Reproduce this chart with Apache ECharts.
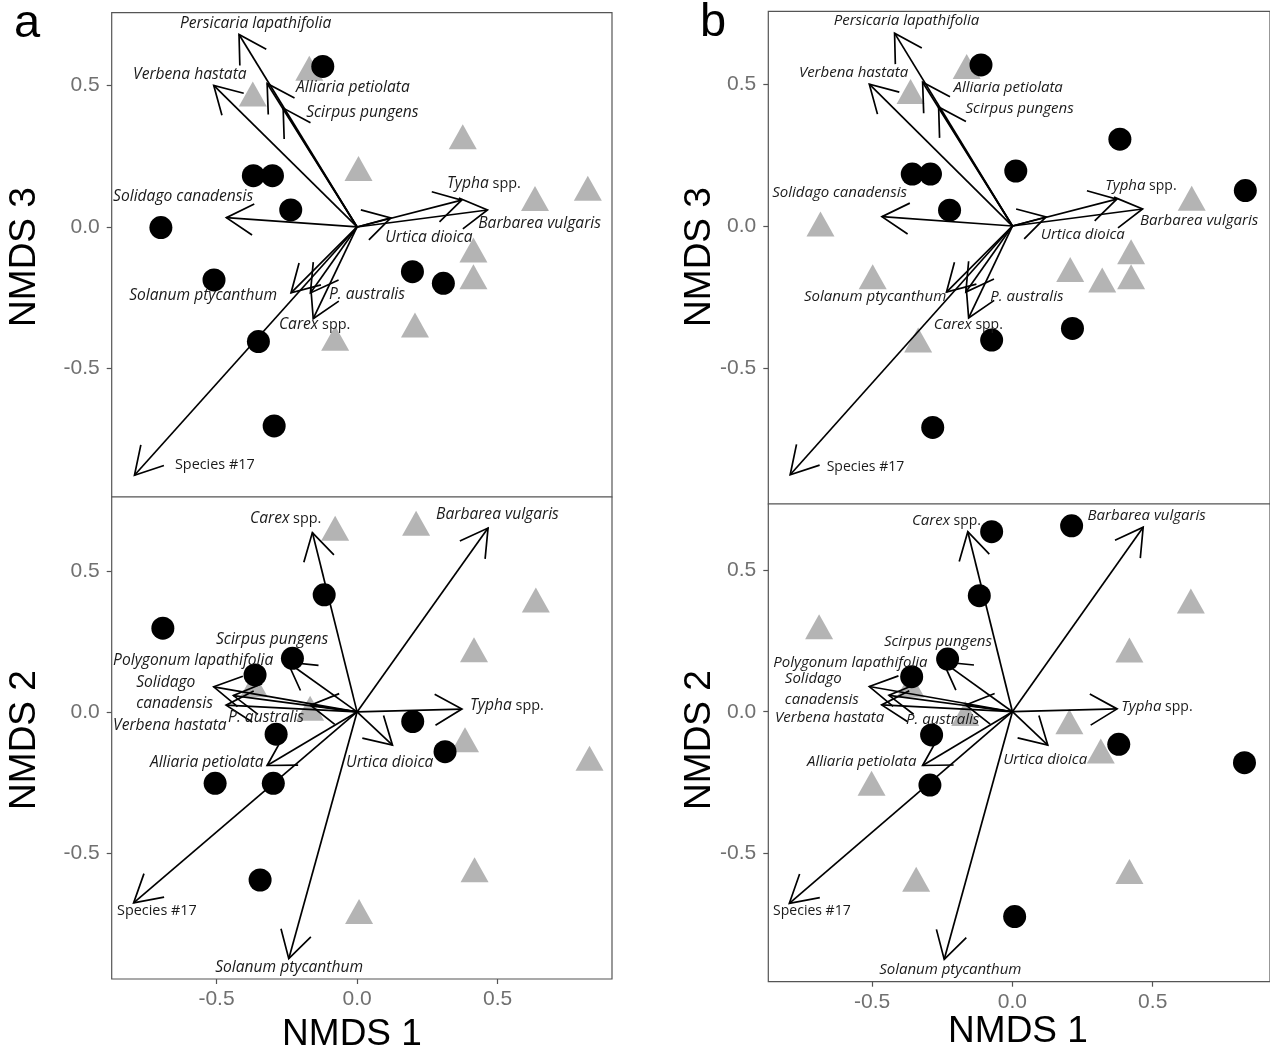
<!DOCTYPE html>
<html><head><meta charset="utf-8">
<script src="https://cdn.jsdelivr.net/npm/echarts@6/dist/echarts.min.js"></script>
<style>html,body{margin:0;padding:0;background:#fff}#c{width:1270px;height:1055px}</style>
</head><body><div id="c"></div>
<script>
// ---------- DATA ----------
const xTicks = [-0.5, 0, 0.5];
const yTicks = [-0.5, 0, 0.5];

// Panel a, NMDS1 vs NMDS3
const a13Circles = [[-0.122,0.567],[-0.369,0.181],[-0.301,0.181],[-0.236,0.060],[-0.698,-0.002],[-0.509,-0.187],[0.197,-0.158],[0.307,-0.199],[-0.351,-0.405],[-0.295,-0.703]];
const a13Triangles = [[-0.170,0.561],[-0.371,0.470],[0.376,0.319],[0.005,0.207],[0.633,0.101],[0.821,0.137],[0.414,-0.081],[0.414,-0.176],[0.206,-0.346],[-0.078,-0.393]];
// Panel a, NMDS1 vs NMDS2
const a12Circles = [[-0.691,0.297],[-0.117,0.415],[-0.230,0.190],[-0.363,0.131],[-0.288,-0.079],[0.198,-0.034],[0.313,-0.141],[-0.505,-0.253],[-0.298,-0.253],[-0.345,-0.596]];
const a12Triangles = [[-0.078,0.651],[0.210,0.669],[0.636,0.397],[0.416,0.220],[-0.367,0.096],[-0.167,0.013],[0.384,-0.099],[0.827,-0.164],[0.418,-0.560],[0.007,-0.708]];
// Panel b, NMDS1 vs NMDS3
const b13Circles = [[-0.112,0.568],[-0.357,0.183],[-0.292,0.183],[0.012,0.194],[0.383,0.306],[-0.224,0.056],[0.830,0.125],[0.214,-0.361],[-0.074,-0.402],[-0.284,-0.710]];
const b13Triangles = [[-0.163,0.562],[-0.363,0.474],[0.639,0.098],[-0.684,0.007],[0.423,-0.091],[0.206,-0.153],[0.320,-0.190],[0.423,-0.179],[-0.498,-0.179],[-0.336,-0.402]];
// Panel b, NMDS1 vs NMDS2
const b12Circles = [[-0.074,0.636],[0.211,0.657],[-0.118,0.410],[-0.231,0.186],[-0.359,0.124],[-0.288,-0.082],[0.379,-0.115],[0.827,-0.180],[-0.294,-0.259],[0.008,-0.724]];
const b12Triangles = [[-0.689,0.300],[0.636,0.391],[0.417,0.218],[-0.363,0.094],[-0.168,-0.006],[0.203,-0.035],[0.315,-0.139],[-0.502,-0.253],[-0.343,-0.592],[0.417,-0.565]];

// Species vectors (NMDS1, NMDS3)
const vectors13 = [
  ['Persicaria lapathifolia', -0.420, 0.680],
  ['Verbena hastata', -0.510, 0.500],
  ['Alliaria petiolata', -0.320, 0.507],
  ['Scirpus pungens', -0.263, 0.420],
  ['Solidago canadensis', -0.465, 0.033],
  ['Typha spp.', 0.372, 0.095],
  ['Barbarea vulgaris', 0.464, 0.060],
  ['Urtica dioica', 0.120, 0.032],
  ['Solanum ptycanthum', -0.235, -0.233],
  ['P. australis', -0.166, -0.233],
  ['Carex spp.', -0.156, -0.324],
  ['Species #17', -0.792, -0.877]
];
// Species vectors (NMDS1, NMDS2)
const vectors12 = [
  ['Carex spp.', -0.159, 0.636],
  ['Barbarea vulgaris', 0.466, 0.652],
  ['Typha spp.', 0.373, 0.010],
  ['Urtica dioica', 0.126, -0.118],
  ['Scirpus pungens', -0.247, 0.176],
  ['Polygonum lapathifolia', -0.510, 0.089],
  ['Solidago canadensis', -0.466, 0.024],
  ['Verbena hastata', -0.440, 0.058],
  ['P. australis', -0.166, 0.024],
  ['Alliaria petiolata', -0.320, -0.190],
  ['Species #17', -0.795, -0.677],
  ['Solanum ptycanthum', -0.243, -0.875]
];

// Label anchors (left edge, middle) in data units
const labelsA13 = [
  ['Persicaria lapathifolia', -0.630, 0.717], ['Verbena hastata', -0.797, 0.537],
  ['Alliaria petiolata', -0.217, 0.491], ['Scirpus pungens', -0.181, 0.406],
  ['Solidago canadensis', -0.868, 0.106], ['Typha spp.', 0.320, 0.152],
  ['Barbarea vulgaris', 0.431, 0.011], ['Urtica dioica', 0.100, -0.039],
  ['Solanum ptycanthum', -0.811, -0.244], ['P. australis', -0.100, -0.237],
  ['Carex spp.', -0.278, -0.346], ['Species #17', -0.648, -0.841]
];
const labelsB13 = [
  ['Persicaria lapathifolia', -0.637, 0.723], ['Verbena hastata', -0.761, 0.540],
  ['Alliaria petiolata', -0.210, 0.487], ['Scirpus pungens', -0.167, 0.413],
  ['Solidago canadensis', -0.856, 0.116], ['Typha spp.', 0.331, 0.141],
  ['Barbarea vulgaris', 0.455, 0.018], ['Urtica dioica', 0.101, -0.032],
  ['Solanum ptycanthum', -0.743, -0.250], ['P. australis', -0.079, -0.250],
  ['Carex spp.', -0.280, -0.349], ['Species #17', -0.662, -0.850]
];
const labelsA12 = [
  ['Carex spp.', -0.381, 0.684], ['Barbarea vulgaris', 0.281, 0.699],
  ['Scirpus pungens', -0.502, 0.255], ['Polygonum lapathifolia', -0.868, 0.181],
  ['Solidago', -0.786, 0.103], ['canadensis', -0.786, 0.028],
  ['Verbena hastata', -0.868, -0.050], ['P. australis', -0.459, -0.021],
  ['Typha spp.', 0.402, 0.021], ['Alliaria petiolata', -0.737, -0.181],
  ['Urtica dioica', -0.039, -0.181], ['Species #17', -0.854, -0.706],
  ['Solanum ptycanthum', -0.505, -0.908]
];
const labelsB12 = [
  ['Carex spp.', -0.358, 0.674], ['Barbarea vulgaris', 0.268, 0.692],
  ['Scirpus pungens', -0.458, 0.246], ['Polygonum lapathifolia', -0.852, 0.172],
  ['Solidago', -0.811, 0.116], ['canadensis', -0.811, 0.041],
  ['Verbena hastata', -0.846, -0.022], ['P. australis', -0.379, -0.029],
  ['Typha spp.', 0.388, 0.017], ['Alliaria petiolata', -0.732, -0.178],
  ['Urtica dioica', -0.033, -0.171], ['Species #17', -0.853, -0.704],
  ['Solanum ptycanthum', -0.475, -0.913]
];

// ---------- LAYOUT ----------
const panels = [
  {left:111.7, top:12.7, width:500.3, height:484.3, xMin:-0.873, xMax:0.907, yMin:-0.954, yMax:0.757, showX:false,
   circles:a13Circles, triangles:a13Triangles, vectors:vectors13, labels:labelsA13, fsI:15.6, fsN:14.4},
  {left:111.7, top:497, width:500.3, height:482, xMin:-0.873, xMax:0.907, yMin:-0.947, yMax:0.762, showX:true,
   circles:a12Circles, triangles:a12Triangles, vectors:vectors12, labels:labelsA12, fsI:15.6, fsN:14.4},
  {left:768.3, top:11.3, width:506, height:492.7, xMin:-0.870, xMax:0.918, yMin:-0.980, yMax:0.757, showX:false,
   circles:b13Circles, triangles:b13Triangles, vectors:vectors13, labels:labelsB13, fsI:15, fsN:14},
  {left:768.3, top:504, width:506, height:477.7, xMin:-0.870, xMax:0.918, yMin:-0.954, yMax:0.734, showX:true,
   circles:b12Circles, triangles:b12Triangles, vectors:vectors12, labels:labelsB12, fsI:15, fsN:14}
];

const TXT = '#1a1a1a';
function richFor(fsI, fsN){
  return {
    i:{fontStyle:'italic', fontFamily:'"Open Sans"', fontSize:fsI, fill:TXT, color:TXT},
    n:{fontStyle:'normal', fontFamily:'"Open Sans"', fontSize:fsN, fill:TXT, color:TXT}
  };
}
function fmt(name){
  if (name.startsWith('Species')) return '{n|' + name + '}';
  if (name.endsWith(' spp.')) return '{i|' + name.slice(0,-5) + '}{n| spp.}';
  return '{i|' + name + '}';
}

function arrowItem(params, api){
  const o = api.coord([0,0]);
  const t = api.coord([api.value(0), api.value(1)]);
  const dx = t[0]-o[0], dy = t[1]-o[1], L = Math.hypot(dx,dy) || 1;
  const bx = -dx/L, by = -dy/L, a = Math.PI/6, h = 31;
  const rot = s => [t[0] + h*(bx*Math.cos(s) - by*Math.sin(s)), t[1] + h*(bx*Math.sin(s) + by*Math.cos(s))];
  const st = {stroke:'#000', lineWidth:1.7, fill:null};
  return {type:'group', children:[
    {type:'line', shape:{x1:o[0], y1:o[1], x2:t[0], y2:t[1]}, style:st},
    {type:'polyline', shape:{points:[rot(a), t, rot(-a)]}, style:st}
  ]};
}

const grid = [], xAxis = [], yAxis = [], series = [];
panels.forEach((p, i) => {
  grid.push({left:p.left, top:p.top, width:p.width, height:p.height, show:true,
    borderColor:'#555', borderWidth:1.2, backgroundColor:'#fff'});
  xAxis.push({gridIndex:i, type:'value', min:p.xMin, max:p.xMax, position:'bottom',
    splitLine:{show:false}, axisLine:{show:false, onZero:false},
    axisTick:{show:p.showX, customValues:xTicks, length:5, lineStyle:{color:'#555', width:1.2}},
    axisLabel:{show:p.showX, customValues:xTicks, formatter:v => v.toFixed(1), fontSize:21,
      color:'#707070', margin:10, fontFamily:'Liberation Sans'}});
  yAxis.push({gridIndex:i, type:'value', min:p.yMin, max:p.yMax, position:'left',
    splitLine:{show:false}, axisLine:{show:false, onZero:false},
    axisTick:{show:true, customValues:yTicks, length:5, lineStyle:{color:'#555', width:1.2}},
    axisLabel:{show:true, customValues:yTicks, formatter:v => v.toFixed(1), fontSize:21,
      color:'#707070', margin:12, fontFamily:'Liberation Sans'}});
  series.push({type:'scatter', xAxisIndex:i, yAxisIndex:i, symbol:'triangle', symbolSize:[28,25],
    itemStyle:{color:'#b4b4b4', opacity:1}, data:p.triangles, z:2, silent:true});
  series.push({type:'scatter', xAxisIndex:i, yAxisIndex:i, symbol:'circle', symbolSize:23,
    itemStyle:{color:'#000', opacity:1}, data:p.circles, z:3, silent:true});
  series.push({type:'custom', xAxisIndex:i, yAxisIndex:i, z:4, silent:true,
    data:p.vectors.map(v => [v[1], v[2]]), renderItem:arrowItem});
  const labs = p.labels, rich = richFor(p.fsI, p.fsN), fs = p.fsI;
  series.push({type:'custom', xAxisIndex:i, yAxisIndex:i, z:5, silent:true,
    data:labs.map(l => [l[1], l[2]]),
    renderItem:(params, api) => {
      const c = api.coord([api.value(0), api.value(1)]);
      return {type:'text', x:c[0], y:c[1], style:{text:fmt(labs[params.dataIndex][0]), rich:rich,
        font:'italic ' + fs + 'px "Open Sans"', fill:TXT, align:'left', verticalAlign:'middle',
        textAlign:'left', textVerticalAlign:'middle'}};
    }});
});

const titleFont = '37px "Liberation Sans", Arial, sans-serif';
const tstyle = (text) => ({text, font:titleFont, fill:'#000', align:'center', verticalAlign:'middle', textAlign:'center', textVerticalAlign:'middle'});
const graphic = [
  {type:'text', x:14, y:24, style:{text:'a', font:'47px "Liberation Sans", Arial', fill:'#000', verticalAlign:'middle', textVerticalAlign:'middle'}},
  {type:'text', x:700, y:23, style:{text:'b', font:'47px "Liberation Sans", Arial', fill:'#000', verticalAlign:'middle', textVerticalAlign:'middle'}},
  {type:'text', x:25, y:257, rotation:Math.PI/2, style:tstyle('NMDS 3')},
  {type:'text', x:25, y:740, rotation:Math.PI/2, style:tstyle('NMDS 2')},
  {type:'text', x:700, y:257, rotation:Math.PI/2, style:tstyle('NMDS 3')},
  {type:'text', x:700, y:740, rotation:Math.PI/2, style:tstyle('NMDS 2')},
  {type:'text', x:352, y:1035, style:tstyle('NMDS 1')},
  {type:'text', x:1018, y:1032, style:tstyle('NMDS 1')}
];

const chart = echarts.init(document.getElementById('c'), null, {renderer:'canvas'});
chart.setOption({backgroundColor:'#fff', animation:false, grid, xAxis, yAxis, series, graphic});
</script></body></html>
